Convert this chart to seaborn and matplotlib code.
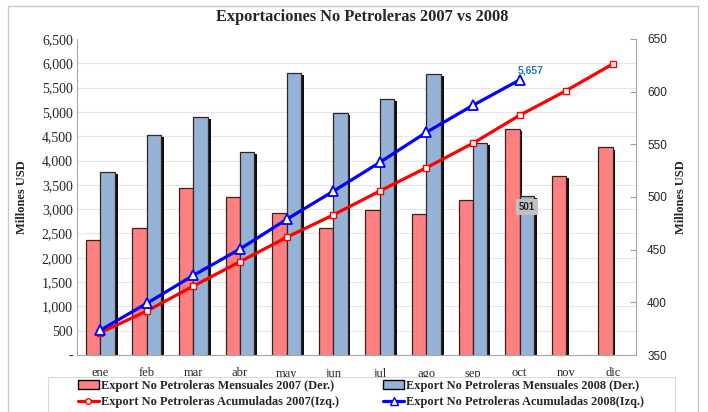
import numpy as np
import pandas as pd
import matplotlib
matplotlib.use("Agg")
import matplotlib.pyplot as plt
import matplotlib.patheffects as pe
from matplotlib.patches import Patch, Rectangle
from matplotlib.lines import Line2D
from matplotlib.ticker import FuncFormatter, MultipleLocator
import seaborn as sns

# datos (millones USD)
meses = ["ene", "feb", "mar", "abr", "may", "jun",
         "jul", "ago", "sep", "oct", "nov", "dic"]
mens_2007 = [459, 471, 509, 500, 485, 471, 488, 484, 497, 565, 520, 547]
mens_2008 = [524, 559, 576, 543, 618, 580, 593, 617, 551, 501]
acum_2007 = [459, 905, 1419, 1920, 2421, 2880, 3373, 3853, 4355, 4930, 5437, 5986]
acum_2008 = [510, 1063, 1639, 2180, 2791, 3367, 3963, 4581, 5136, 5657]

lbl_m07 = "Export No Petroleras Mensuales 2007 (Der.)"
lbl_m08 = "Export No Petroleras Mensuales 2008 (Der.)"
lbl_a07 = "Export No Petroleras Acumuladas 2007(Izq.)"
lbl_a08 = "Export No Petroleras Acumuladas 2008(Izq.)"

pink = "#FF8080"
lblue = "#95B3D7"
serif = "Liberation Serif"
sans = "Liberation Sans"

bars = pd.concat([
    pd.DataFrame({"mes": meses, "serie": "2007", "valor": mens_2007}),
    pd.DataFrame({"mes": meses[:len(mens_2008)], "serie": "2008", "valor": mens_2008}),
])
lin07 = pd.DataFrame({"mes": meses, "valor": acum_2007})
lin08 = pd.DataFrame({"mes": meses[:len(acum_2008)], "valor": acum_2008})

sns.set_style("white")
fig = plt.figure(figsize=(7.08, 4.12), dpi=100)
ax = fig.add_axes([77 / 708, 1 - 355 / 412, (636 - 77) / 708, (355 - 39) / 412])
ax2 = ax.twinx()

# barras mensuales (eje derecho)
sns.barplot(data=bars, x="mes", y="valor", hue="serie", order=meses,
            hue_order=["2007", "2008"], palette=[pink, lblue], saturation=1,
            width=0.62, gap=0, edgecolor="#3a2222", linewidth=0.9,
            legend=False, ax=ax)
for p in ax.patches:
    p.set_path_effects([pe.SimplePatchShadow(offset=(2, -1.5), shadow_rgbFace="black", alpha=0.95),
                        pe.Normal()])
ax.set_ylim(350, 650)
ax.yaxis.set_major_locator(MultipleLocator(50))
ax.set_yticks(np.linspace(350, 650, 14), minor=True)
ax.grid(which="minor", axis="y", color="#E6E6E6", lw=0.8)
ax.grid(which="major", axis="y", visible=False)
ax.set_axisbelow(True)
ax.yaxis.tick_right()
ax.yaxis.set_label_position("right")
ax.set_ylabel("Millones USD", family=serif, weight="bold", fontsize=9, labelpad=6)
ax.set_xlabel("")
ax.tick_params(axis="y", which="major", direction="in", length=4, color="#A0A0A0",
               labelsize=8.5, pad=8)
ax.tick_params(axis="y", which="minor", length=0)
for t in ax.get_yticklabels():
    t.set_family(sans)
ax.set_xlim(-0.5, 11.5)
ax.set_xticks(np.arange(-0.5, 12, 1), minor=True)
ax.tick_params(axis="x", which="major", length=0, labelsize=9, pad=9)
ax.tick_params(axis="x", which="minor", length=4, direction="out", color="#C8C8C8")
for t in ax.get_xticklabels():
    t.set_family(serif)
for s in ax.spines.values():
    s.set_color("#A6A6A6")
ax.spines["top"].set_visible(False)

# etiqueta 501
b = ax.containers[1][-1]
ax.annotate(f"{b.get_height():,.0f}", (b.get_x() + b.get_width() / 2, b.get_height()),
            xytext=(0, -8), textcoords="offset points", ha="center", va="center",
            fontsize=7, weight="bold", family=sans,
            bbox=dict(boxstyle="square,pad=0.3", fc="#C0C0C0", ec="none"))

# lineas acumuladas (eje izquierdo)
sns.lineplot(data=lin07, x="mes", y="valor", ax=ax2, color="red", lw=2.3,
             marker="s", markersize=4, markerfacecolor="white", markeredgecolor="red",
             markeredgewidth=1)
sns.lineplot(data=lin08, x="mes", y="valor", ax=ax2, color="blue", lw=2.3,
             marker="^", markersize=7, markerfacecolor="white", markeredgecolor="blue",
             markeredgewidth=1.3)
ax2.set_ylim(0, 6500)
ax2.yaxis.set_major_locator(MultipleLocator(500))
ax2.yaxis.set_major_formatter(FuncFormatter(lambda v, p: "-" if v == 0 else f"{v:,.0f}"))
ax2.yaxis.tick_left()
ax2.yaxis.set_label_position("left")
ax2.set_ylabel("Millones USD", family=serif, weight="bold", fontsize=9, labelpad=10)
ax2.set_xlabel("")
ax2.tick_params(axis="y", length=0, labelsize=10, pad=3)
for t in ax2.get_yticklabels():
    t.set_family(serif)
for s in ax2.spines.values():
    s.set_visible(False)
ax2.annotate(f"{acum_2008[-1]:,}", (len(acum_2008) - 1, acum_2008[-1]),
             xytext=(-1, 3), textcoords="offset points", ha="left", va="bottom",
             fontsize=7.5, weight="bold", family=sans, color="#1F78C8")

fig.text(362 / 708, 1 - 17 / 412, "Exportaciones No Petroleras 2007 vs 2008",
         family=serif, weight="bold", fontsize=11.8, ha="center", va="center")

handles = [Patch(facecolor=pink, edgecolor="black", lw=1),
           Line2D([], [], color="red", lw=2.3, marker="o", markersize=4,
                  markerfacecolor="white", markeredgecolor="red"),
           Patch(facecolor=lblue, edgecolor="black", lw=1),
           Line2D([], [], color="blue", lw=2.3, marker="^", markersize=6,
                  markerfacecolor="white", markeredgecolor="blue")]
fig.legend(handles, [lbl_m07, lbl_a07, lbl_m08, lbl_a08], ncol=2,
           loc="upper left", bbox_to_anchor=(75 / 708, 1 - 377 / 412),
           prop=dict(family=serif, weight="bold", size=8.9),
           frameon=False, handlelength=1.7, handletextpad=0.15,
           columnspacing=3.6, labelspacing=0.36, borderpad=0.22, borderaxespad=0)

# recuadro de leyenda y marco exterior
fig.patches.append(Rectangle((48 / 708, -0.05), (675 - 48) / 708, 0.05 + 1 - 377 / 412,
                             transform=fig.transFigure, fc="white",
                             ec="#D9D9D9", lw=0.8, zorder=0.5))
fig.patches.append(Rectangle((8 / 708, -0.05), 690 / 708, 1.05 - 6 / 412,
                             transform=fig.transFigure, fill=False,
                             ec="#C8C8C8", lw=1))

fig.savefig("out.png", dpi=100)
